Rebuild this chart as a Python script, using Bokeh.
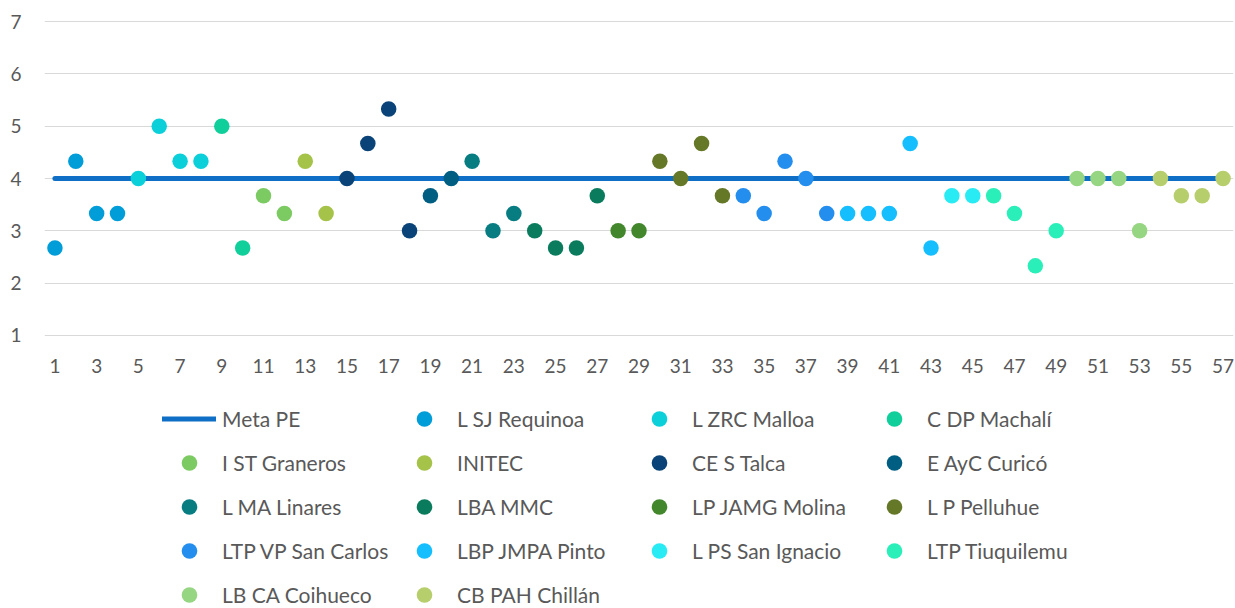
from bokeh.plotting import figure
from bokeh.layouts import column
from bokeh.models import Legend, LegendItem, FixedTicker, Range1d, ColumnDataSource
from bokeh.embed import file_html
from bokeh.resources import INLINE

# ---------------- data ----------------
series_names = [
    "L SJ Requinoa", "L ZRC Malloa", "C DP Machalí", "I ST Graneros", "INITEC",
    "CE S Talca", "E AyC Curicó", "L MA Linares", "LBA MMC", "LP JAMG Molina",
    "L P Pelluhue", "LTP VP San Carlos", "LBP JMPA Pinto", "L PS San Ignacio",
    "LTP Tiuquilemu", "LB CA Coihueco", "CB PAH Chillán",
]
series_colors = [
    "#009DD9", "#0BD0D9", "#10CF9B", "#7CCA62", "#A5C249",
    "#094377", "#005E82", "#077D82", "#0A7C5D", "#43872D",
    "#657828", "#238EEE", "#15BEFF", "#28EBF4",
    "#2AEFB9", "#96D581", "#B7CE6D",
]
# number of consecutive points belonging to each series
series_counts = [4, 4, 2, 2, 2, 4, 2, 3, 4, 2, 4, 5, 5, 2, 4, 4, 4]

positions = list(range(1, 58))
scores = [
    2.67, 4.33, 3.33, 3.33, 4.00, 5.00, 4.33, 4.33, 5.00, 2.67,
    3.67, 3.33, 4.33, 3.33, 4.00, 4.67, 5.33, 3.00, 3.67, 4.00,
    4.33, 3.00, 3.33, 3.00, 2.67, 2.67, 3.67, 3.00, 3.00, 4.33,
    4.00, 4.67, 3.67, 3.67, 3.33, 4.33, 4.00, 3.33, 3.33, 3.33,
    3.33, 4.67, 2.67, 3.67, 3.67, 3.67, 3.33, 2.33, 3.00, 4.00,
    4.00, 4.00, 3.00, 4.00, 3.67, 3.67, 4.00,
]

meta_label = "Meta PE"
meta_x = [1, 57]
meta_y = [4, 4]

x_ticks = [1, 3, 5, 7, 9, 11, 13, 15, 17, 19, 21, 23, 25, 27, 29, 31, 33, 35,
           37, 39, 41, 43, 45, 47, 49, 51, 53, 55, 57]
y_ticks = [1, 2, 3, 4, 5, 6, 7]

# ---------------- styles ----------------
FONT = "Lato"
TXT = "#595959"
META_COLOR = "#0F6FC6"
MARKER_SIZE = 15.5
LINE_W = 5

# ---------------- chart ----------------
p = figure(
    width=1235, height=390,
    x_range=Range1d(0.5, 57.5), y_range=Range1d(0.98, 7.02),
    output_backend="svg", toolbar_location=None,
    min_border_left=44, min_border_right=2, min_border_top=20, min_border_bottom=54,
)
p.outline_line_color = None
p.xgrid.visible = False
p.ygrid.grid_line_color = "#D9D9D9"
p.ygrid.grid_line_width = 1

p.xaxis.ticker = FixedTicker(ticks=x_ticks)
p.yaxis.ticker = FixedTicker(ticks=y_ticks)
for ax in (p.xaxis, p.yaxis):
    ax.major_tick_line_color = None
    ax.minor_tick_line_color = None
    ax.major_tick_out = 0
    ax.major_tick_in = 0
    ax.axis_line_color = None
    ax.major_label_text_font = FONT
    ax.major_label_text_font_size = "19px"
    ax.major_label_text_color = TXT
p.xaxis.major_label_standoff = 22
p.yaxis.major_label_standoff = 23

p.line(meta_x, meta_y, line_width=LINE_W, line_color=META_COLOR, line_cap="round")
start = 0
for color, n in zip(series_colors, series_counts):
    src = ColumnDataSource(dict(x=positions[start:start + n], y=scores[start:start + n]))
    p.scatter("x", "y", source=src, size=MARKER_SIZE, fill_color=color, line_color=None)
    start += n

# ---------------- legend (separate strip below the chart) ----------------
lg = figure(
    width=1235, height=218, x_range=Range1d(0, 1), y_range=Range1d(0, 1),
    x_axis_type=None, y_axis_type=None,
    output_backend="svg", toolbar_location=None,
    min_border=0,
)
lg.outline_line_color = None
lg.grid.visible = False

nan = float("nan")
items = [LegendItem(label=meta_label, renderers=[
    lg.line("x", "y", source=ColumnDataSource(dict(x=[nan, nan], y=[nan, nan])),
            line_width=LINE_W, line_color=META_COLOR, line_cap="round")])]
for name, color in zip(series_names, series_colors):
    r = lg.scatter("x", "y", source=ColumnDataSource(dict(x=[nan], y=[nan])),
                   size=MARKER_SIZE, fill_color=color, line_color=None)
    items.append(LegendItem(label=name, renderers=[r]))

legend = Legend(
    items=items, location=(118, -5.5), orientation="horizontal", ncols=4,
    glyph_width=54, glyph_height=39, label_height=39, label_width=170,
    label_standoff=6, spacing=5, padding=0, margin=0,
    label_text_font=FONT, label_text_font_size="21px", label_text_color=TXT,
    background_fill_alpha=0, border_line_alpha=0,
)
lg.add_layout(legend)

page = column(p, lg, spacing=0)
open("out.html", "w").write(file_html(page, INLINE))
